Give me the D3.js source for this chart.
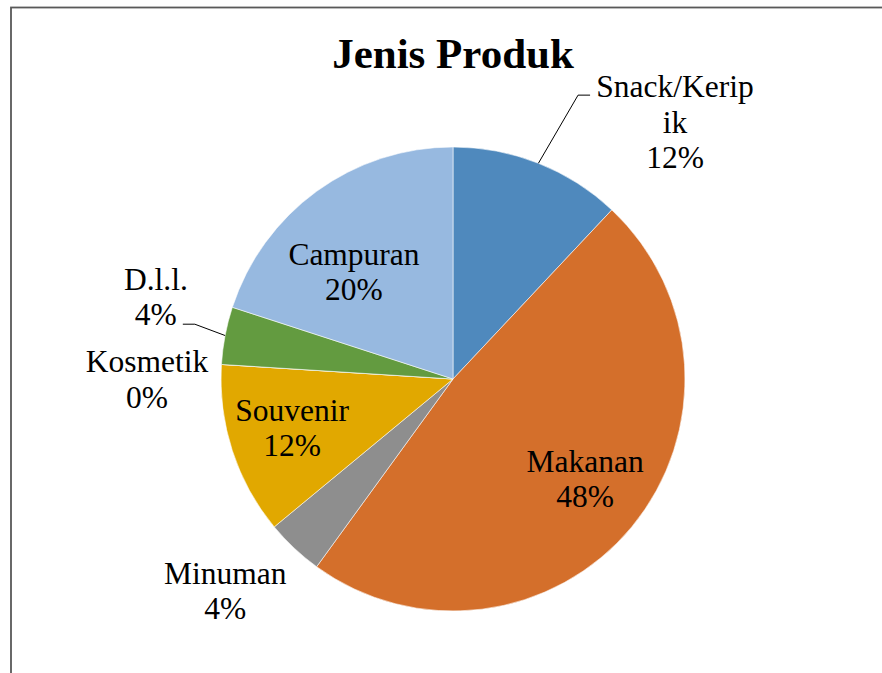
<!DOCTYPE html>
<meta charset="utf-8">
<script src="https://d3js.org/d3.v7.min.js"></script>
<style>
  body { margin: 0; background: #fff; }
</style>
<div id="chart"></div>
<script>
// data (share of products, in %)
var categories = ["Snack/Keripik", "Makanan", "Minuman", "Souvenir", "Kosmetik", "D.l.l.", "Campuran"];
var values = [12, 48, 4, 12, 0, 4, 20];
var labelLines = [["Snack/Kerip", "ik"], ["Makanan"], ["Minuman"], ["Souvenir"], ["Kosmetik"], ["D.l.l."], ["Campuran"]];
var colors = ["#4F89BD", "#D46F2B", "#8E8E8E", "#E1A800", "#4472C4", "#639B40", "#97B9E0"];

var width = 882, height = 673;
var cx = 453, cy = 379, r = 232;
var fontSize = 31.5, lineH = 35.5;
var serif = "Liberation Serif";

// label placement: polar position (degrees clockwise from top, fraction of radius)
var labelPos = {
  "Snack/Keripik": {a: 40.9, k: 1.462, leader: {knee: [-97, -27.5], end: [-85, -27.5]}},
  "Makanan": {a: 127.3, k: 0.716},
  "Minuman": {a: 227, k: 1.343},
  "Souvenir": {a: 252.9, k: 0.726},
  "Kosmetik": {a: 269.8, k: 1.319},
  "D.l.l.": {a: 285.3, k: 1.328, leader: {knee: [39, 26.5], end: [27, 26.5]}},
  "Campuran": {a: 317.1, k: 0.627}
};

var svg = d3.select("#chart").append("svg")
  .attr("width", width).attr("height", height);

// chart frame
svg.append("rect")
  .attr("x", 11).attr("y", 7.5)
  .attr("width", 900).attr("height", 700)
  .attr("fill", "none")
  .attr("stroke", "#595959")
  .attr("stroke-width", 1.8);

svg.append("text")
  .attr("x", cx).attr("y", 68)
  .attr("text-anchor", "middle")
  .style("font-family", serif)
  .style("font-size", "43px")
  .style("font-weight", "bold")
  .text("Jenis Produk");

var data = categories.map(function(c, i) {
  return {name: c, value: values[i], lines: labelLines[i], color: colors[i]};
});

var pie = d3.pie().sort(null).value(function(d) { return d.value; });
var arc = d3.arc().innerRadius(0).outerRadius(r);
var arcs = pie(data);

var g = svg.append("g").attr("transform", "translate(" + cx + "," + cy + ")");

g.selectAll("path.slice")
  .data(arcs)
  .enter().append("path")
    .attr("class", "slice")
    .attr("d", arc)
    .attr("fill", function(d) { return d.data.color; })
    .attr("stroke", "#fff")
    .attr("stroke-opacity", 0.7)
    .attr("stroke-width", 0.8);

function polar(angleDeg, radius) {
  var a = angleDeg * Math.PI / 180;
  return [radius * Math.sin(a), -radius * Math.cos(a)];
}

arcs.forEach(function(d) {
  var pos = labelPos[d.data.name];
  var p = polar(pos.a, pos.k * r);
  var lines = d.data.lines.concat([d.data.value + "%"]);
  var firstBase = p[1] - (lines.length - 1) * lineH / 2 + 10;

  var t = g.append("text")
    .attr("text-anchor", "middle")
    .style("font-family", serif)
    .style("font-size", fontSize + "px");
  lines.forEach(function(l, i) {
    t.append("tspan").attr("x", p[0]).attr("y", firstBase + i * lineH).text(l);
  });

  if (pos.leader) {
    var mid = (d.startAngle + d.endAngle) / 2 * 180 / Math.PI;
    var s = polar(mid, r);
    g.append("polyline")
      .attr("points", [s, [p[0] + pos.leader.knee[0], p[1] + pos.leader.knee[1]],
                          [p[0] + pos.leader.end[0], p[1] + pos.leader.end[1]]].join(" "))
      .attr("fill", "none")
      .attr("stroke", "#000")
      .attr("stroke-width", 1);
  }
});
</script>
